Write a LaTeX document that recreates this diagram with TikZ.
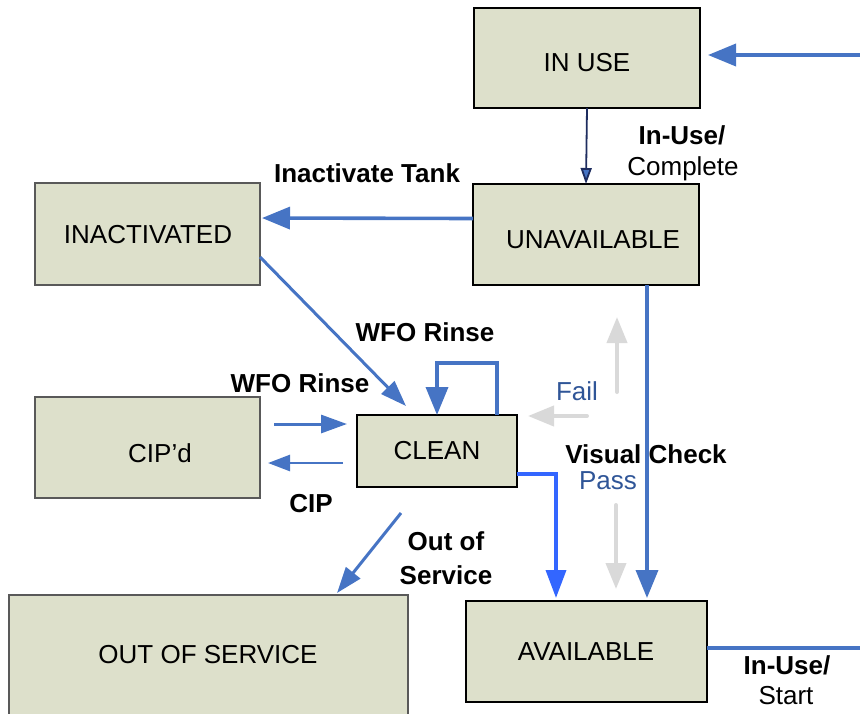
\documentclass[tikz,border=0pt]{standalone}
\usepackage{fontspec}
\setmainfont{Liberation Sans}
\usetikzlibrary{arrows.meta}
\definecolor{boxfill}{RGB}{221,224,203}
\definecolor{ablue}{RGB}{70,116,196}
\definecolor{bblue}{RGB}{51,102,255}
\definecolor{navy}{RGB}{30,45,95}
\definecolor{lblue}{RGB}{47,85,151}
\definecolor{lgray}{RGB}{217,217,217}
\tikzset{
  box/.style={draw=black, line width=2.2pt, fill=boxfill, inner sep=0pt, outer sep=0pt},
  softbox/.style={draw=black!65, line width=1.2pt, fill=boxfill, inner sep=0pt, outer sep=0pt},
  txt/.style={font=\fontsize{26}{30}\selectfont, text height=18.7pt, text depth=0pt, inner sep=0pt},
  btxt/.style={txt, font=\fontsize{26}{30}\selectfont\bfseries},
  ctxt/.style={txt, text=lblue},
  barrow/.style={draw=ablue, line width=3.6pt, -{Triangle[length=28pt,width=22pt]}},
  sarrow/.style={draw=ablue, line width=3pt, -{Triangle[length=26pt,width=18pt]}},
  garrow/.style={draw=lgray, line width=4pt, line cap=round, -{Triangle[length=26pt,width=20pt]}},
}
\begin{document}
\begin{tikzpicture}[x=1pt,y=-1pt]
\useasboundingbox (0,0) rectangle (860,713);
% boxes
\node[box, minimum width=226pt, minimum height=100pt] (inuse) at (587,58) {};
\node[box, minimum width=226pt, minimum height=101pt] (unavail) at (586,234.5) {};
\node[softbox, minimum width=225pt, minimum height=102pt] (inact) at (147.5,234) {};
\node[softbox, minimum width=225pt, minimum height=101pt] (cipd) at (147.5,447.5) {};
\node[box, minimum width=160pt, minimum height=72pt] (clean) at (437,451) {};
\node[softbox, minimum width=399pt, minimum height=135pt] (oos) at (208.5,662.5) {};
\node[box, minimum width=241pt, minimum height=101pt] (avail) at (586.5,651.5) {};
% box texts
\node[txt] (tinuse) at (587,62) {IN USE};
\node[txt] (tunavail) at (593,239) {UNAVAILABLE};
\node[txt] (tinact) at (148,234) {INACTIVATED};
\node[txt] (tcipd) at (160,453) {CIP’d};
\node[txt] (tclean) at (437,450) {CLEAN};
\node[txt] (toos) at (208,654) {OUT OF SERVICE};
\node[txt] (tavail) at (586,651) {AVAILABLE};
% free ends
\coordinate (rin) at (860,55);
\coordinate (rout) at (860,648);
\coordinate (fu1) at (617,392);
\coordinate (fu2) at (617,317);
\coordinate (fl1) at (587,416);
\coordinate (fl2) at (528,416);
\coordinate (pd1) at (616,505);
\coordinate (pd2) at (616,589);
% connectors
\draw[barrow, shorten >=8pt] (rin) -- (inuse.east |- rin);
\draw[draw=navy, line width=1.8pt, -{Triangle[length=16pt,width=11pt,open,fill=ablue]}] (inuse.south) -- (unavail.north);
\draw[barrow, shorten >=2pt] ([yshift=16pt]unavail.west) -- ([yshift=16pt]inact.east);
\draw[sarrow] ([yshift=-23pt]inact.east) -- ([xshift=49pt,yshift=9pt]clean.north west);
\draw[barrow] ([xshift=-20pt]clean.north east) -- ++(0,-52) -| (clean.north);
\draw[sarrow, shorten >=10pt] ([xshift=14pt,yshift=23.5pt]cipd.east) -- ([yshift=27pt]clean.west);
\draw[draw=ablue, line width=2.6pt, -{Triangle[length=22pt,width=16pt]}, shorten >=8pt] ([xshift=-14pt,yshift=-12pt]clean.west) -- ([yshift=-15.5pt]cipd.east);
\draw[sarrow] ([xshift=-36pt,yshift=-26pt]clean.south) -- ([xshift=128.5pt,yshift=2pt]oos.north);
\draw[draw=bblue, line width=3.6pt, -{Triangle[length=28pt,width=20pt]}] ([yshift=-23pt]clean.east) -| ([xshift=-30.5pt,yshift=3pt]avail.north);
\draw[barrow] ([xshift=61pt]unavail.south) -- ([xshift=60.5pt,yshift=3pt]avail.north);
\draw[draw=ablue, line width=3.6pt] ([yshift=3.5pt]avail.east) -- (rout);
\draw[garrow] (fu1) -- (fu2);
\draw[garrow] (fl1) -- (fl2);
\draw[garrow] (pd1) -- (pd2);
% labels
\node[btxt] (l1) at (682,135) {In-Use/};
\node[txt] (l2) at (683,166) {Complete};
\node[btxt] (l3) at (367,173) {Inactivate Tank};
\node[btxt] (l4) at (425,332) {WFO Rinse};
\node[btxt] (l5) at (300,383) {WFO Rinse};
\node[ctxt] (l6) at (577,391) {Fail};
\node[btxt] (l7) at (646,454) {Visual Check};
\node[ctxt] (l8) at (608,480) {Pass};
\node[btxt] (l9) at (311,503) {CIP};
\node[btxt] (l10) at (446,541) {Out of};
\node[btxt] (l11) at (446,575) {Service};
\node[btxt] (l12) at (787,665) {In-Use/};
\node[txt] (l13) at (786,695) {Start};
\end{tikzpicture}
\end{document}
